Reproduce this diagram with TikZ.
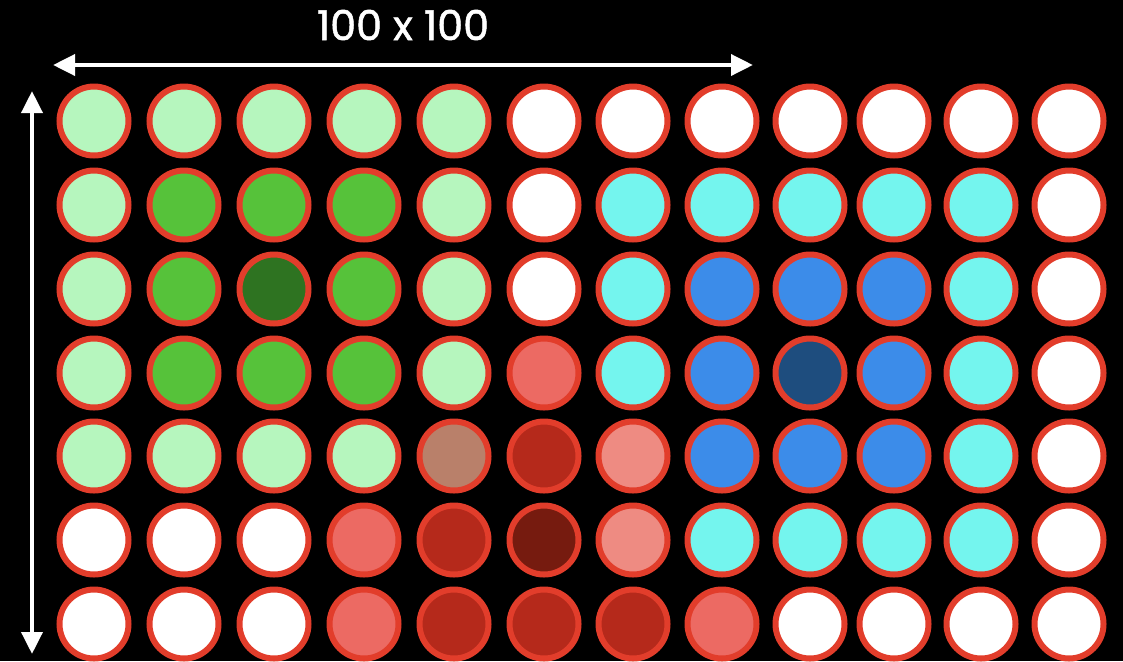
\documentclass[tikz,border=0pt]{standalone}
\usepackage{fontspec}
\setmainfont{Poppins}
\newfontfamily\titlefont[FakeBold=1.2]{Poppins}
\usetikzlibrary{arrows.meta}
\definecolor{bord}{HTML}{E23D2B}
\definecolor{cLG}{HTML}{B6F6BE}
\definecolor{cG}{HTML}{56C23A}
\definecolor{cDG}{HTML}{2E7321}
\definecolor{cW}{HTML}{FFFFFF}
\definecolor{cC}{HTML}{74F5EE}
\definecolor{cB}{HTML}{3C8CE9}
\definecolor{cDB}{HTML}{1E4D7E}
\definecolor{cS}{HTML}{EC6A63}
\definecolor{cLS}{HTML}{EE8B82}
\definecolor{cR}{HTML}{B5291B}
\definecolor{cDR}{HTML}{761B0F}
\definecolor{cBr}{HTML}{B9806A}
\begin{document}
\begin{tikzpicture}[x=0.75pt,y=-0.75pt,
  dot/.style={circle,draw=bord,line width=4.5pt,minimum size=51.75pt,inner sep=0pt},
  dim/.style={draw=white,line width=3.4pt,{Triangle[length=16.5pt,width=15.5pt]}-{Triangle[length=16.5pt,width=15.5pt]}},
  lbl/.style={text=white,font=\titlefont\fontsize{31}{36}\selectfont}]
\fill[black] (0,0) rectangle (1123,661);
\useasboundingbox (0,0) rectangle (1123,661);
\def\xs{{94,184,274,364,454,544,633,722,810,894,981,1069}}
\def\ys{{121,205,289,373,456,540,624}}
\foreach \rowlist [count=\r] in {
  {LG,LG,LG,LG,LG,W,W,W,W,W,W,W},
  {LG,G,G,G,LG,W,C,C,C,C,C,W},
  {LG,G,DG,G,LG,W,C,B,B,B,C,W},
  {LG,G,G,G,LG,S,C,B,DB,B,C,W},
  {LG,LG,LG,LG,Br,R,LS,B,B,B,C,W},
  {W,W,W,S,R,DR,LS,C,C,C,C,W},
  {W,W,W,S,R,R,R,S,W,W,W,W}} {
  \foreach \col [count=\c] in \rowlist {
    \pgfmathsetmacro\xx{\xs[\c-1]}
    \pgfmathsetmacro\yy{\ys[\r-1]}
    \node[dot,fill=c\col] (n\r-\c) at (\xx,\yy) {};
  }
}
\node[lbl] (title) at (403,25) {100 x 100};
\coordinate (hl) at (53,65);
\coordinate (hr) at (753,65);
\coordinate (vt) at (32,91);
\coordinate (vb) at (32,654);
\draw[dim] (hl) -- (hr);
\draw[dim] (vt) -- (vb);
\end{tikzpicture}
\end{document}
